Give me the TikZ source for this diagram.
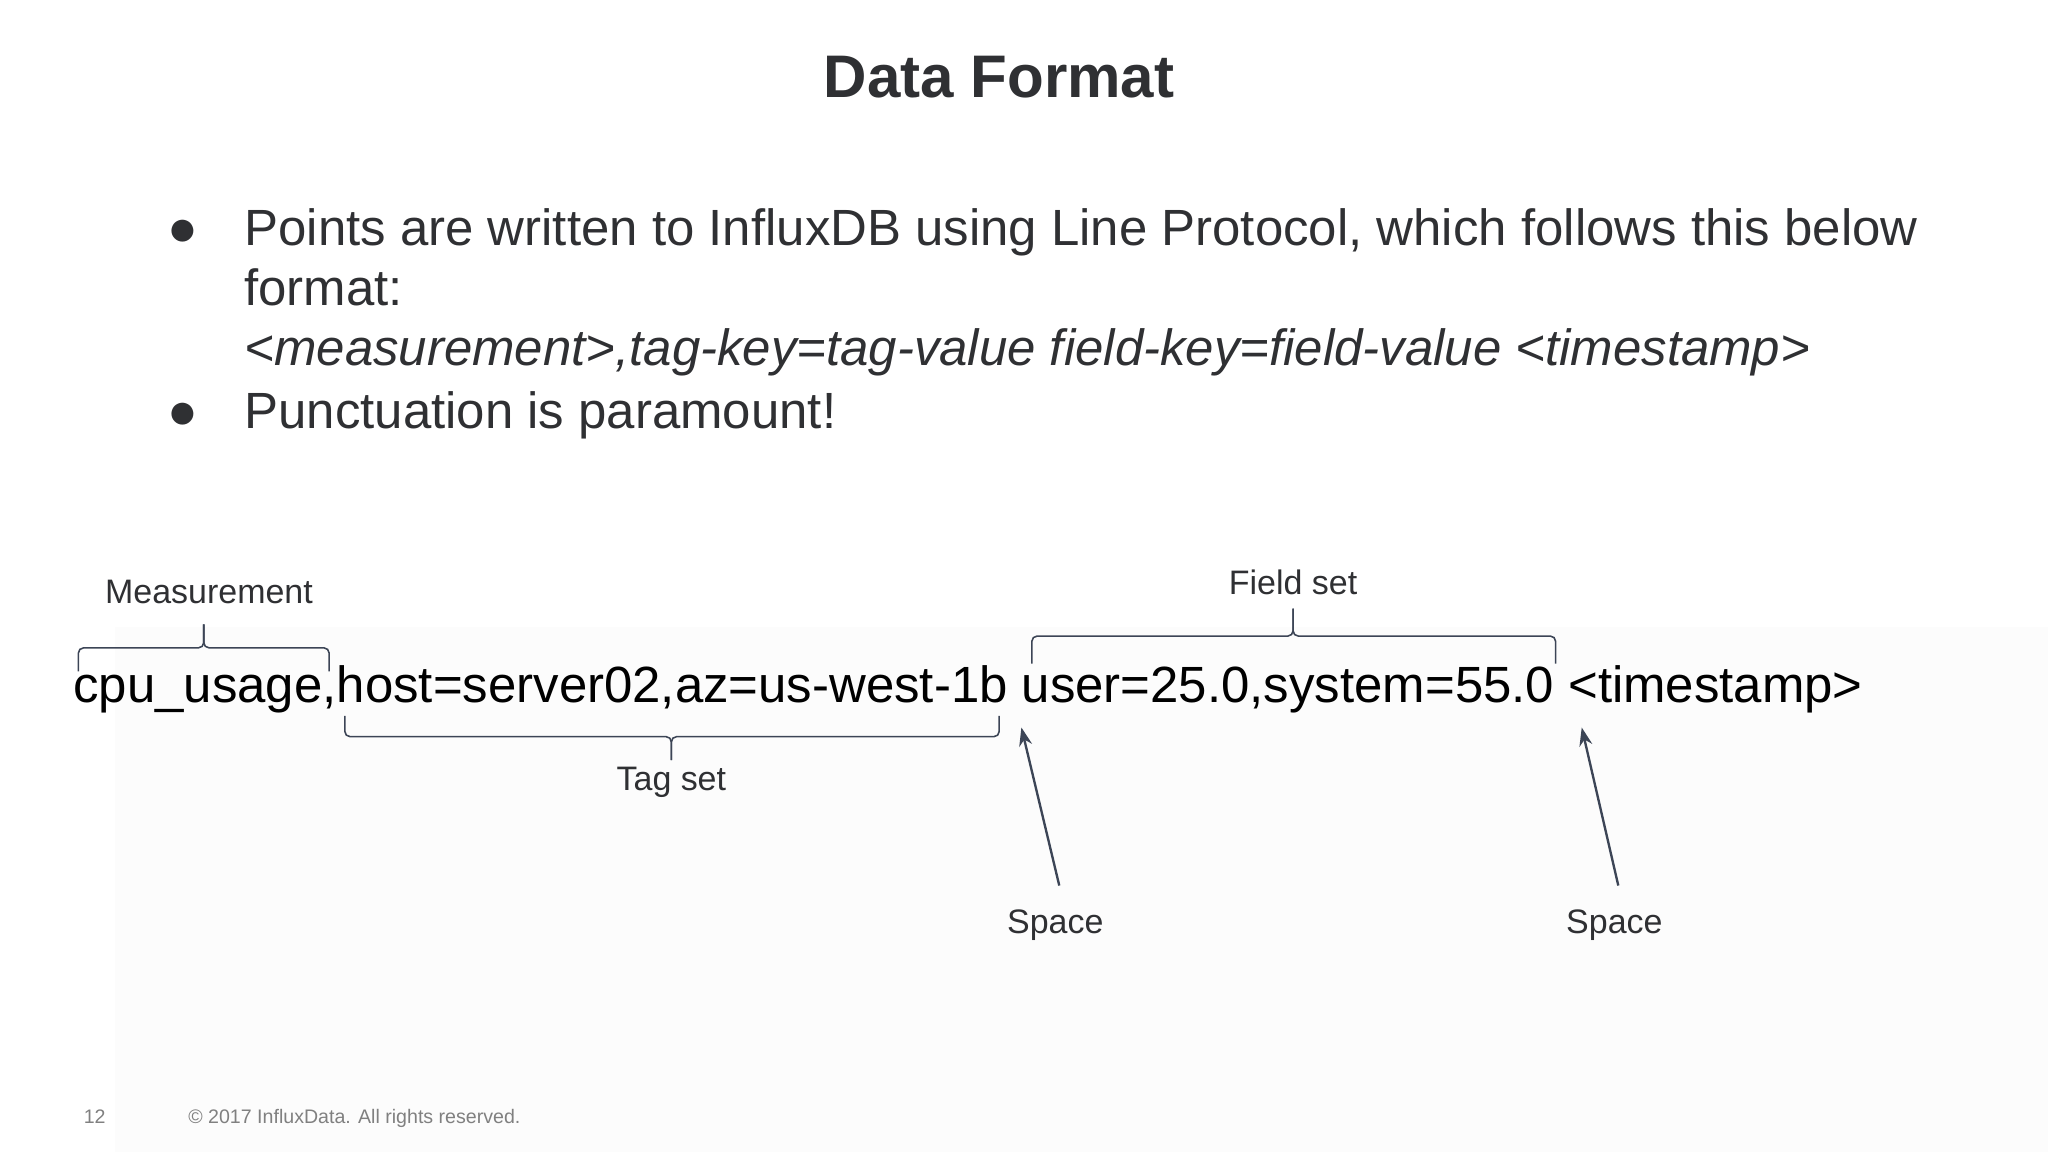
\documentclass[tikz,border=0pt]{standalone}
\usepackage{fontspec}
\setmainfont{Liberation Sans}
\usetikzlibrary{arrows.meta}
\definecolor{ink}{HTML}{2F3033}
\definecolor{arr}{HTML}{3C4556}
\begin{document}
\begin{tikzpicture}[x=1pt,y=-1pt,
  txt/.style={inner sep=0pt,text=ink},
  lbl/.style={inner sep=0pt,text=ink,font=\fontsize{26}{30}\selectfont},
  brc/.style={draw=arr,line width=1.2pt,rounded corners=4pt},
  pt/.style={draw=arr,line width=1.8pt,-{Stealth[length=14pt,width=10pt]}}]
\useasboundingbox (0,0) rectangle (1568,882);
\fill[gray!2] (88,480) rectangle (1568,882);
\node[txt,font=\fontsize{46}{50}\selectfont\bfseries,anchor=base] (title) at (765,75) {Data Format};
\node[txt,font=\fontsize{39}{40}\selectfont,anchor=base] (b1) at (140,188) {●};
\node[txt,font=\fontsize{39}{40}\selectfont,anchor=base west] (l1) at (187,188) {Points are written to InfluxDB using Line Protocol, which follows this below};
\node[txt,font=\fontsize{39}{40}\selectfont,anchor=base west] (l2) at (187,234) {format:};
\node[txt,font=\fontsize{39}{40}\selectfont\itshape,anchor=base west] (l3) at (187,280) {<measurement>,tag-key=tag-value field-key=field-value <timestamp>};
\node[txt,font=\fontsize{39}{40}\selectfont,anchor=base] (b2) at (140,328) {●};
\node[txt,font=\fontsize{39}{40}\selectfont,anchor=base west] (l4) at (187,328) {Punctuation is paramount!};
\node[txt,text=black,font=\fontsize{39}{40}\selectfont,anchor=base west] (code) at (56,538) {cpu\_usage,host=server02,az=us-west-1b user=25.0,system=55.0 <timestamp>};
\node[lbl,anchor=base] (meas) at (160,462) {Measurement};
\node[lbl,anchor=base] (field) at (990,455) {Field set};
\node[lbl,anchor=base] (tag) at (514,605) {Tag set};
\node[lbl,anchor=base] (sp1) at (808,715) {Space};
\node[lbl,anchor=base] (sp2) at (1236,715) {Space};
\draw[brc] (60,514) -- (60,496) -- (156,496) -- (156,478);
\draw[brc] (156,478) -- (156,496) -- (252,496) -- (252,514);
\draw[brc] (264,548) -- (264,564) -- (514,564) -- (514,582);
\draw[brc] (514,582) -- (514,564) -- (765,564) -- (765,548);
\draw[brc] (790,508) -- (790,487) -- (990,487) -- (990,466);
\draw[brc] (990,466) -- (990,487) -- (1191,487) -- (1191,508);
\coordinate (t1) at (782,557);
\coordinate (t2) at (1211,557);
\draw[pt] (811,678) -- (t1);
\draw[pt] (1239,678) -- (t2);
\node[txt,text=gray,font=\fontsize{15}{16}\selectfont,anchor=base west] (pg) at (64,860) {12};
\node[txt,text=gray,font=\fontsize{15}{16}\selectfont,anchor=base west] (cr) at (144,860) {© 2017 InfluxData. All rights reserved.};
\end{tikzpicture}
\end{document}
